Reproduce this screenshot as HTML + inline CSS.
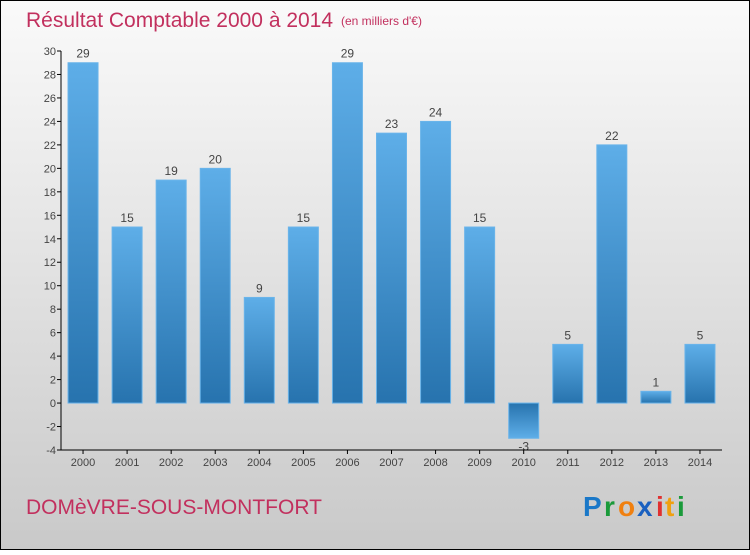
<!DOCTYPE html>
<html><head><meta charset="utf-8"><style>
body{margin:0;}
#wrap{width:750px;height:550px;position:relative;font-family:"Liberation Sans",sans-serif;}
</style></head><body>
<div id="wrap">
<svg id="chart" width="750" height="550" xmlns="http://www.w3.org/2000/svg">
<defs>
<linearGradient id="bg" x1="0" y1="0" x2="0" y2="1"><stop offset="0" stop-color="#fafafa"/><stop offset="1" stop-color="#c9c9c9"/></linearGradient>
<linearGradient id="pos" x1="0" y1="0" x2="0" y2="1"><stop offset="0" stop-color="#5eaee8"/><stop offset="1" stop-color="#2773ae"/></linearGradient>
<linearGradient id="neg" x1="0" y1="0" x2="0" y2="1"><stop offset="0" stop-color="#2773ae"/><stop offset="1" stop-color="#5eaee8"/></linearGradient>
</defs>
<rect x="0.5" y="0.5" width="749" height="549" fill="url(#bg)" stroke="#000"/>
<text x="26" y="27" font-size="21" fill="#c2305e">Résultat Comptable 2000 à 2014</text>
<text x="341" y="25" font-size="12" fill="#c2305e">(en milliers d'€)</text>
<text x="26" y="514" font-size="21" fill="#c2305e">DOMèVRE-SOUS-MONTFORT</text>
<g font-size="28" font-weight="bold">
<text x="583" y="516" fill="#1a78c8">P</text><text x="604" y="516" fill="#1a9a3a">r</text><text x="618" y="516" fill="#f08010">o</text><text x="637" y="516" fill="#1a60c0">x</text><text x="656" y="516" fill="#e03030">i</text><text x="665" y="516" fill="#f0a010">t</text><text x="677" y="516" fill="#1a9a3a">i</text>
</g>
<g id="plot"></g>
</svg>
</div>
<script>
const categories=["2000","2001","2002","2003","2004","2005","2006","2007","2008","2009","2010","2011","2012","2013","2014"];
const values=[29,15,19,20,9,15,29,23,24,15,-3,5,22,1,5];
const yTicks=[-4,-2,0,2,4,6,8,10,12,14,16,18,20,22,24,26,28,30];
const NS="http://www.w3.org/2000/svg";
const g=document.getElementById('plot');
const x0=61,x1=722,yTop=51,yBot=450,vMin=-4,vMax=30;
const y=v=>yBot-(v-vMin)/(vMax-vMin)*(yBot-yTop);
const step=(x1-x0)/categories.length;
const xc=i=>x0+step*(i+0.5);
function mk(t,a){const e=document.createElementNS(NS,t);for(const k in a)e.setAttribute(k,a[k]);g.appendChild(e);return e;}
values.forEach((v,i)=>{
 const top=Math.min(y(v),y(0)),h=Math.abs(y(v)-y(0));
 const r=mk('rect',{x:xc(i)-15,y:top,width:30,height:h,fill:v>=0?'url(#pos)':'url(#neg)',stroke:'#6ab4ea','stroke-width':1});
 
 
 const t=mk('text',{x:xc(i),y:v>=0?y(v)-5:y(v)+12,'font-size':12,fill:'#444','text-anchor':'middle'});
 t.textContent=v;
 
 
 const tk=mk('line',{x1:xc(i),x2:xc(i),y1:yBot,y2:yBot+4,stroke:'#000'});
 
 
 const xl=mk('text',{x:xc(i),y:yBot+16,'font-size':11,fill:'#444','text-anchor':'middle'});
 xl.textContent=categories[i];
 
 
});
yTicks.forEach(v=>{
 const l=mk('line',{x1:x0-4,x2:x0,y1:y(v),y2:y(v),stroke:'#000'});
 
 
 const t=mk('text',{x:x0-5,y:y(v)+4,'font-size':11,fill:'#444','text-anchor':'end'});
 t.textContent=v;
 
 
});
const ya=mk('line',{x1:x0,x2:x0,y1:yTop,y2:yBot,stroke:'#000'});


const xa=mk('line',{x1:x0,x2:x1,y1:yBot,y2:yBot,stroke:'#000'});


</script>
</body></html>
